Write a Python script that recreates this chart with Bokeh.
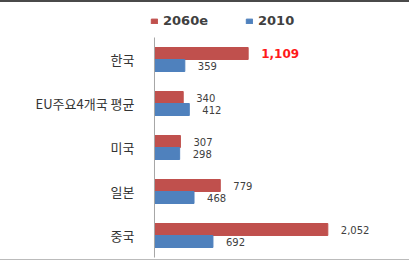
from bokeh.plotting import figure
from bokeh.models import ColumnDataSource, Range1d, Legend, LegendItem, FixedTicker
from bokeh.embed import file_html
from bokeh.resources import INLINE
from bokeh.core.properties import value

categories = ["한국", "EU주요4개국 평균", "미국", "일본", "중국"]
series_names = ["2060e", "2010"]
values_2060e = [1109, 340, 307, 779, 2052]
values_2010 = [359, 412, 298, 468, 692]
highlight_category = "한국"

RED = "#C0504D"
BLUE = "#4F81BD"

n = len(categories)
ypos = [n - 1 - i for i in range(n)]  # first category on top

p = figure(width=409, height=260,
           y_range=Range1d(-0.6136, n - 1 + 1.2955),
           x_range=Range1d(-94.7, 2948),
           output_backend="svg", toolbar_location=None,
           min_border_left=146, min_border_right=6,
           min_border_top=0, min_border_bottom=0)
p.styles = {"border-top": "2px solid #4a4a4a", "border-bottom": "1px solid #BBBBBB"}

off = 0.1364
bh = 0.2727

def make_src(vals, hl, o):
    return ColumnDataSource(dict(
        y=[v + o for v in ypos],
        val=vals,
        label=[f"{v:,}" for v in vals],
        color=["#FF1A1A" if (hl and c == highlight_category) else "#404040" for c in categories],
        style=["bold" if (hl and c == highlight_category) else "normal" for c in categories],
        size=["12px" if (hl and c == highlight_category) else "10px" for c in categories],
    ))

src_a = make_src(values_2060e, True, off)
src_b = make_src(values_2010, False, -off)

r_a = p.hbar(y="y", left=0, right="val", height=bh,
             source=src_a, fill_color=RED, line_color=RED)
r_b = p.hbar(y="y", left=0, right="val", height=bh,
             source=src_b, fill_color=BLUE, line_color=BLUE)

for src in (src_a, src_b):
    p.text(x="val", y="y", text="label", source=src,
           x_offset=13, text_baseline="middle", text_align="left",
           text_font=value("DejaVu Sans"), text_font_size="size",
           text_color="color", text_font_style="style")

# category axis line (spans the category bands)
p.segment(x0=[0], y0=[-0.5], x1=[0], y1=[n - 0.5], line_color="#A6A6A6", line_width=1)

legend = Legend(items=[LegendItem(label=series_names[0], renderers=[r_a]),
                       LegendItem(label=series_names[1], renderers=[r_b])],
                orientation="horizontal", location=(4, 234),
                glyph_width=8, glyph_height=6, label_standoff=5, spacing=37,
                padding=0, margin=0, label_height=12,
                label_text_font="DejaVu Sans", label_text_font_size="13px",
                label_text_font_style="bold", label_text_color="#404040",
                border_line_color=None, background_fill_alpha=0)
p.add_layout(legend)

p.xaxis.visible = False
p.grid.visible = False
p.outline_line_color = None
p.yaxis.ticker = FixedTicker(ticks=ypos)
p.yaxis.major_label_overrides = {y: c for y, c in zip(ypos, categories)}
p.yaxis.axis_line_color = None
p.yaxis.major_tick_line_color = None
p.yaxis.minor_tick_line_color = None
p.yaxis.major_label_standoff = 6
p.yaxis.major_label_text_font = "Noto Sans CJK KR"
p.yaxis.major_label_text_font_size = "13px"
p.yaxis.major_label_text_color = "#333333"

open("out.html", "w").write(file_html(p, INLINE))
